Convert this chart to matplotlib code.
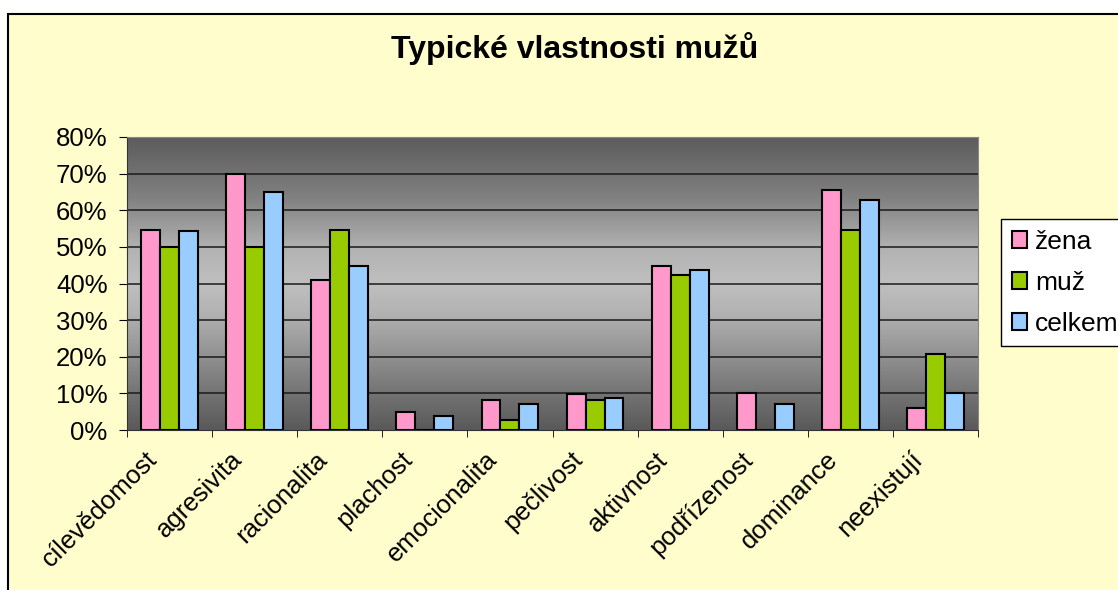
import matplotlib.pyplot as plt
import matplotlib.patches as mpatches
import matplotlib.transforms as mtransforms
import numpy as np

plt.rcParams['font.family'] = ['Liberation Sans', 'DejaVu Sans']

categories = ['cílevědomost', 'agresivita', 'racionalita', 'plachost', 'emocionalita',
              'pečlivost', 'aktivnost', 'podřízenost', 'dominance', 'neexistují']
zena = [54.7, 70.0, 41.0, 5.0, 8.3, 9.8, 44.9, 10.0, 65.6, 6.1]
muz = [50.0, 50.0, 54.7, 0.0, 2.7, 8.3, 42.2, 0.0, 54.7, 20.8]
celkem = [54.2, 65.1, 44.9, 3.9, 7.2, 8.8, 43.7, 7.2, 62.8, 10.0]
series_names = ['žena', 'muž', 'celkem']
colors = ['#FF99CC', '#99CC00', '#99CCFF']

fig = plt.figure(figsize=(11.18, 5.90), dpi=100, facecolor='white')

# chart area frame (runs off the right and bottom edge)
frame = mpatches.Rectangle((8 / 1118, -0.1), 1.2, 1.1 - 14 / 590,
                           transform=fig.transFigure, facecolor='#FFFDCC',
                           edgecolor='black', linewidth=1.5, zorder=-5)
fig.patches.append(frame)

ax = fig.add_axes([127 / 1118, 160 / 590, 851 / 1118, 293 / 590])
ax.set_xlim(-0.5, 9.5)
ax.set_ylim(0, 80)

# grey gradient background of the plot area
ys = np.linspace(0, 1, 256)
stops = [0.0, 0.12, 0.4, 0.5, 0.62, 0.8, 1.0]
vals = [0.35, 0.45, 0.70, 0.75, 0.70, 0.50, 0.36]
g = np.repeat(np.interp(ys, stops, vals)[:, None], 2, axis=1)
img = np.dstack([g, g, g])
ax.imshow(img, extent=[-0.5, 9.5, 0, 80], aspect='auto', origin='lower', zorder=0)

for yv in range(10, 81, 10):
    ax.axhline(yv, color='#1a1a1a', linewidth=1.1, zorder=1)

x = np.arange(len(categories))
w = 1 / 4.5
for i, (vals_s, c, name) in enumerate(zip([zena, muz, celkem], colors, series_names)):
    ax.bar(x + (i - 1) * w, vals_s, width=w, color=c, edgecolor='black',
           linewidth=1.5, label=name, zorder=2)

fig.text(575 / 1118, 1 - 58 / 590, 'Typické vlastnosti mužů', fontsize=23,
         fontweight='bold', ha='center', va='baseline')

ax.set_yticks(range(0, 81, 10))
ax.set_yticklabels([f'{v}%' for v in range(0, 81, 10)], fontsize=18.5)
ax.set_xticks(x)
ax.set_xticklabels(categories, rotation=45, ha='right', rotation_mode='anchor', fontsize=18.5)
ax.tick_params(axis='x', length=0, pad=14)
shift = mtransforms.ScaledTranslation(-25 / 100, 2 / 100, fig.dpi_scale_trans)
for lab in ax.get_xticklabels():
    lab.set_transform(lab.get_transform() + shift)
ax.set_xticks(np.arange(-0.5, 10, 1), minor=True)
ax.tick_params(axis='x', which='minor', length=5, direction='out', color='black')
ax.tick_params(axis='y', length=6, direction='out', color='black', pad=8)

for side in ['left', 'bottom']:
    ax.spines[side].set_color('#333333')
for side in ['top', 'right']:
    ax.spines[side].set_color('#888888')

leg = fig.legend(loc='upper left', bbox_to_anchor=(1001 / 1118, 1 - 219 / 590),
                 fontsize=19, frameon=True, fancybox=False, edgecolor='black',
                 framealpha=1, facecolor='white',
                 handlelength=0.6, handleheight=0.6, handletextpad=0.3,
                 labelspacing=0.65, borderpad=0.4, borderaxespad=0)
leg.get_frame().set_linewidth(1.0)

fig.savefig('out.png', dpi=100)
